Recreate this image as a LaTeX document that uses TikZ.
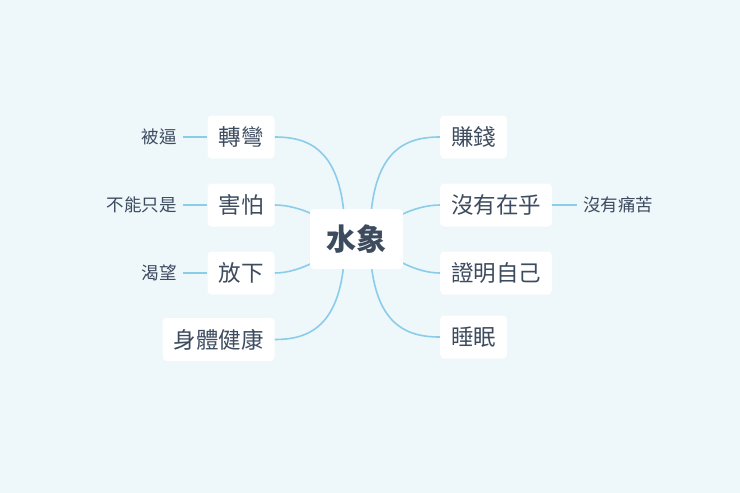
\documentclass[tikz,border=0pt]{standalone}
\usepackage{fontspec}
\setmainfont{Noto Sans CJK TC}
\usetikzlibrary{backgrounds}

\definecolor{fundo}{HTML}{EEF7FA}
\definecolor{linha}{HTML}{8ACDEB}
\definecolor{texto}{HTML}{3D4B5F}

\tikzset{
  raiz/.style={fill=white, rounded corners=4pt, minimum width=93pt, minimum height=60pt,
    text=texto, font=\fontsize{30}{34}\selectfont\bfseries},
  ramo/.style={fill=white, rounded corners=4pt, minimum height=43pt, inner xsep=11pt,
    text=texto, font=\fontsize{22.5}{26}\selectfont},
  folha/.style={inner sep=6pt, text=texto, font=\fontsize{17.5}{20}\selectfont},
  galho/.style={draw=linha, line width=1.6pt},
  ligacao/.style={draw=linha, line width=1.4pt}
}

\begin{document}
\begin{tikzpicture}[x=1pt, y=-1pt]

        \useasboundingbox (0,0) rectangle (740,493);

        \node[raiz] (centro) at (356.5,239) {水象};
        \coordinate (origemE) at (345,238);
        \coordinate (origemD) at (370,238);

        % ramos da esquerda
        \node[ramo] (curva) at (241,137) {轉彎};
        \node[ramo] (medo) at (241,205) {害怕};
        \node[ramo] (soltar) at (241,273) {放下};
        \node[ramo] (saude) at (218.5,339.5) {身體健康};

        % ramos da direita
        \node[ramo] (dinheiro) at (473.5,137) {賺錢};
        \node[ramo] (ligar) at (496,205) {沒有在乎};
        \node[ramo] (provar) at (496,273) {證明自己};
        \node[ramo] (sono) at (473.5,337) {睡眠};

        % folhas
        \node[folha, anchor=east] (forcado) at (183,137) {被逼};
        \node[folha, anchor=east] (naoso) at (183,205) {不能只是};
        \node[folha, anchor=east] (desejo) at (183,273) {渴望};
        \node[folha, anchor=west] (semdor) at (577,205) {沒有痛苦};

        %fundo e galhos por baixo dos nos
        \begin{scope}[on background layer]
            \fill[fundo] (0,0) rectangle (740,493);

            \draw[galho] (origemE) .. controls (345,150) and (310,137) .. (curva.east);
            \draw[galho] (origemE) .. controls (330,220) and (300,205) .. (medo.east);
            \draw[galho] (origemE) .. controls (330,256) and (300,273) .. (soltar.east);
            \draw[galho] (origemE) .. controls (345,326) and (310,339.5) .. (saude.east);

            \draw[galho] (origemD) .. controls (370,150) and (405,137) .. (dinheiro.west);
            \draw[galho] (origemD) .. controls (385,220) and (415,205) .. (ligar.west);
            \draw[galho] (origemD) .. controls (385,256) and (415,273) .. (provar.west);
            \draw[galho] (origemD) .. controls (370,324) and (405,337) .. (sono.west);
        \end{scope}

        \draw[ligacao] (forcado) -- (curva);
        \draw[ligacao] (naoso) -- (medo);
        \draw[ligacao] (desejo) -- (soltar);
        \draw[ligacao] (ligar) -- (semdor);

    \end{tikzpicture}
\end{document}
